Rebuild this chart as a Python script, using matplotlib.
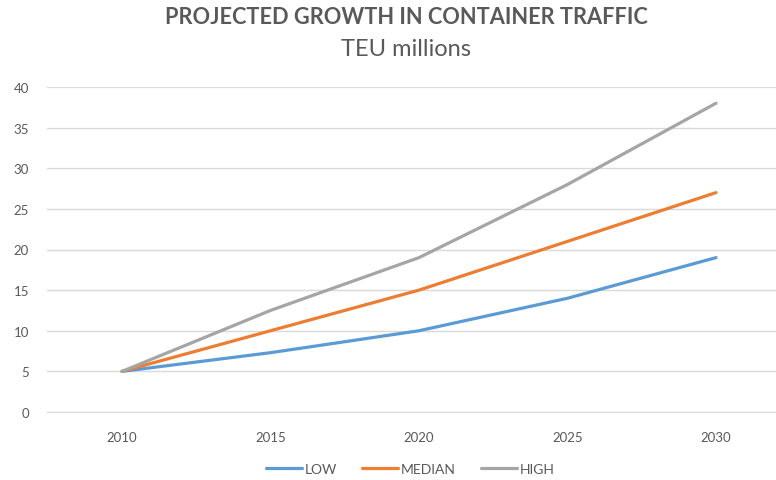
import numpy as np
import matplotlib.pyplot as plt

years = [2010, 2015, 2020, 2025, 2030]
low = [5, 7.3, 10, 14, 19]
median = [5, 10, 15, 21, 27]
high = [5, 12.5, 19, 28, 38]

plt.rcParams['font.family'] = ['Lato', 'DejaVu Sans']

fig = plt.figure(figsize=(7.76, 4.81), dpi=100)
ax = fig.add_axes([47/776, (481-413)/481, (776-47)/776, (413-88)/481])

ax.plot(years, low, color='#5B9BD5', lw=2.3, solid_joinstyle='round', solid_capstyle='round', label='LOW')
ax.plot(years, median, color='#ED7D31', lw=2.3, solid_joinstyle='round', solid_capstyle='round', label='MEDIAN')
ax.plot(years, high, color='#A5A5A5', lw=2.3, solid_joinstyle='round', solid_capstyle='round', label='HIGH')

ax.set_ylim(0, 40)
ax.set_yticks(np.arange(0, 41, 5))
ax.set_xlim(2010 - 75/148.5*5, 2030 + 60/148.5*5)
ax.set_xticks(years)
ax.grid(axis='y', color='#D9D9D9', lw=1)
ax.set_axisbelow(True)
for s in ['top', 'right', 'left']:
    ax.spines[s].set_visible(False)
ax.spines['bottom'].set_color('#D9D9D9')
ax.tick_params(length=0, labelsize=9.5, colors='#595959')
ax.tick_params(axis='y', pad=13)
ax.tick_params(axis='x', pad=14)

fig.text(406/776, 1 - 18/481, 'PROJECTED GROWTH IN CONTAINER TRAFFIC', ha='center', va='center',
         fontsize=15.7, fontweight='bold', color='#595959')
fig.text(406/776, 1 - 50/481, 'TEU millions', ha='center', va='center', fontsize=17, color='#595959')

fig.legend(loc='center', bbox_to_anchor=(410/776, 1 - 470/481), ncol=3, frameon=False,
           fontsize=10, labelcolor='#595959', handlelength=2.6, columnspacing=1.8, handletextpad=0.2)

fig.savefig('out.png', dpi=100)
